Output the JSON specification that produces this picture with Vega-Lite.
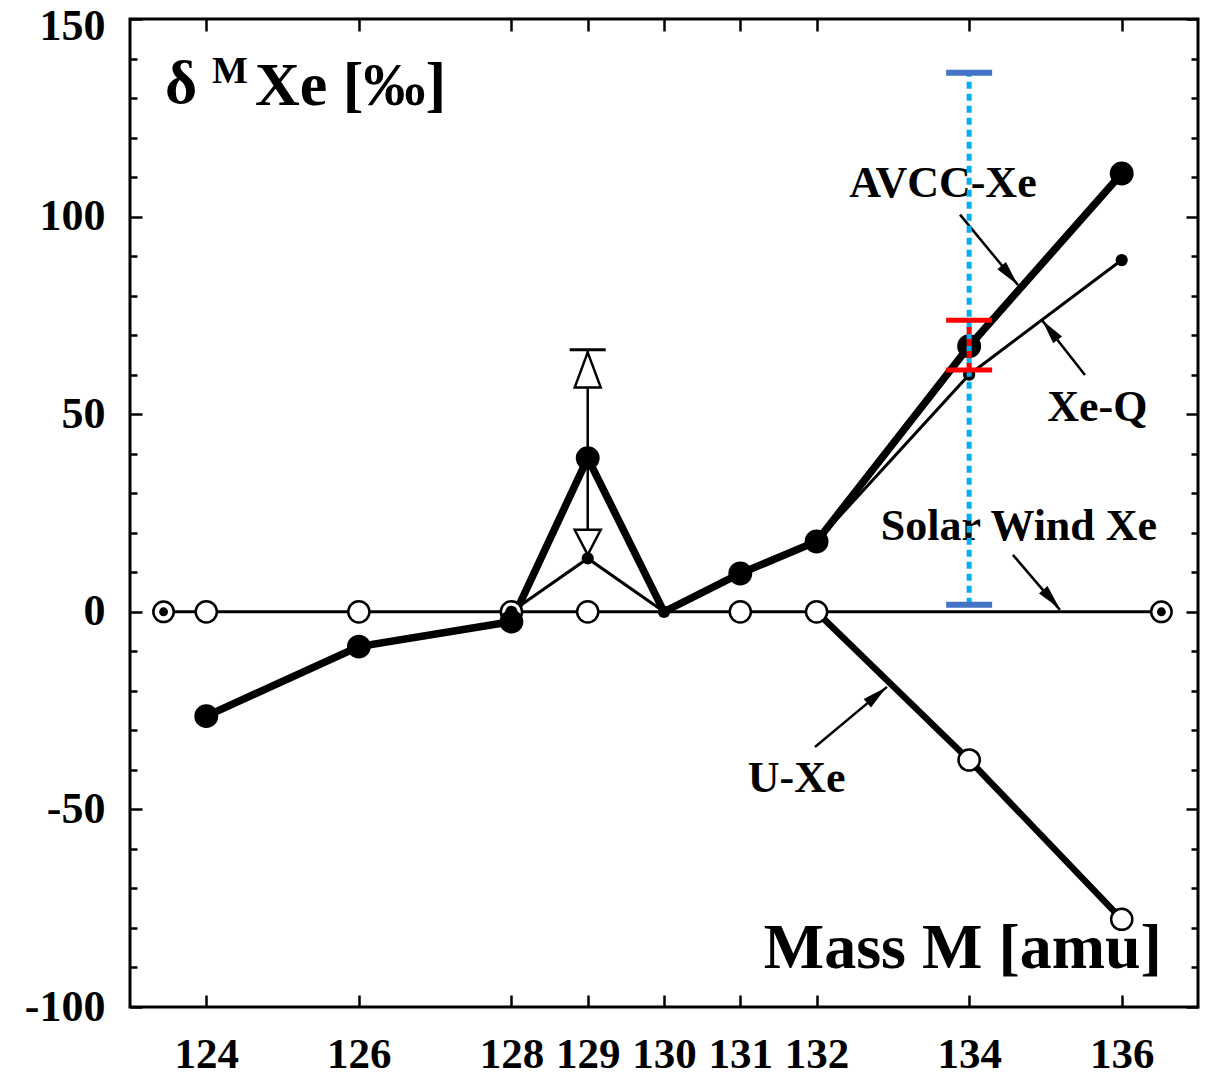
{
  "$schema": "https://vega.github.io/schema/vega-lite/v6.json",
  "width": 1068,
  "height": 988,
  "autosize": {"type": "none"},
  "padding": {"left": 130, "top": 19, "right": 10, "bottom": 69},
  "background": "white",
  "config": {
    "font": "Liberation Serif",
    "view": {"stroke": "black", "strokeWidth": 3}
  },
  "datasets": {
    "avcc": [
      {"m": 124, "d": -26.4}, {"m": 126, "d": -8.8}, {"m": 128, "d": -2.5},
      {"m": 129, "d": 38.9}, {"m": 130, "d": 0}, {"m": 131, "d": 9.7},
      {"m": 132, "d": 17.8}, {"m": 134, "d": 67.2}, {"m": 136, "d": 110.9}
    ],
    "xeq": [
      {"m": 128, "d": 0}, {"m": 129, "d": 13.5}, {"m": 130, "d": 0},
      {"m": 131, "d": 9.7}, {"m": 132, "d": 17.8}, {"m": 134, "d": 60.0}, {"m": 136, "d": 89.0}
    ],
    "uxe": [
      {"m": 124, "d": 0}, {"m": 126, "d": 0}, {"m": 128, "d": 0}, {"m": 129, "d": 0},
      {"m": 131, "d": 0}, {"m": 132, "d": 0}, {"m": 134, "d": -37.5}, {"m": 136, "d": -77.8}
    ],
    "sw": [{"m": 123.44, "d": 0}, {"m": 136.52, "d": 0}],
    "err129": [{"m": 129, "d": 20.6, "d2": 66.3}],
    "cap129": [{"m": 129, "d": 66.3}],
    "triup": [{"m": 129, "d": 61.2}],
    "tridown": [{"m": 129, "d": 17.6}],
    "blue134": [{"m": 134, "d": 1.8, "d2": 136.4}],
    "red134": [{"m": 134, "d": 61.2, "d2": 73.8}],
    "labels": [
      {"m": 133.657, "d": 104.96, "text": "AVCC-Xe"},
      {"m": 135.68, "d": 48.3, "text": "Xe-Q"},
      {"m": 134.653, "d": 18.17, "text": "Solar Wind Xe"},
      {"m": 131.739, "d": -45.5, "text": "U-Xe"}
    ],
    "arrows": [
      {"m": 133.880, "d": 100.5, "m2": 134.640, "d2": 82.7},
      {"m": 135.518, "d": 59.9, "m2": 134.954, "d2": 73.8},
      {"m": 134.574, "d": 14.4, "m2": 135.190, "d2": 0.5},
      {"m": 131.979, "d": -34.2, "m2": 132.923, "d2": -19.0}
    ],
    "heads": [
      {"m": 134.531, "d": 85.2, "angle": 140},
      {"m": 135.059, "d": 71.3, "angle": 322},
      {"m": 135.079, "d": 3.2, "angle": 139},
      {"m": 132.791, "d": -21.1, "angle": 50}
    ],
    "titleMain": [{"m": 123.459, "d": 128.7, "text": "δ"}, {"m": 124.638, "d": 128.2, "text": "Xe [‰]"}],
    "titleSup": [{"m": 124.075, "d": 133.8, "text": "M"}],
    "xtitle": [{"m": 136.527, "d": -90.1, "text": "Mass M [amu]"}]
  },
  "layer": [
    {
      "data": {"name": "sw"},
      "mark": {"type": "line", "color": "black", "strokeWidth": 3},
      "encoding": {
        "x": {
          "field": "m", "type": "quantitative",
          "scale": {"domain": [123, 137], "nice": false, "zero": false},
          "axis": {
            "orient": "top", "values": [124, 126, 128, 129, 130, 131, 132, 134, 136],
            "labels": false, "title": null, "domain": false, "grid": false,
            "tickSize": -12, "tickWidth": 2.5, "tickColor": "black"
          }
        },
        "y": {
          "field": "d", "type": "quantitative",
          "scale": {"domain": [-100, 150], "nice": false, "zero": false},
          "axis": {
            "orient": "right",
            "values": [-100, -90, -80, -70, -60, -50, -40, -30, -20, -10, 0, 10, 20, 30, 40, 50, 60, 70, 80, 90, 100, 110, 120, 130, 140, 150],
            "labels": false, "title": null, "domain": false, "grid": false,
            "tickSize": {"condition": {"test": "datum.value % 50 === 0", "value": -12}, "value": -7},
            "tickWidth": 2.5, "tickColor": "black"
          }
        }
      }
    },
    {
      "encoding": {
        "x": {
          "field": "m", "type": "quantitative",
          "scale": {"domain": [123, 137], "nice": false, "zero": false},
          "axis": {
            "orient": "bottom", "values": [124, 126, 128, 129, 130, 131, 132, 134, 136],
            "format": "d", "title": null, "domain": false, "grid": false,
            "tickSize": -12, "tickWidth": 2.5, "tickColor": "black",
            "labelFont": "Liberation Serif", "labelFontSize": 43, "labelFontWeight": "bold",
            "labelColor": "black", "labelPadding": 38, "labelFlush": false, "labelOverlap": false
          }
        },
        "y": {
          "field": "d", "type": "quantitative",
          "scale": {"domain": [-100, 150], "nice": false, "zero": false},
          "axis": {
            "orient": "left",
            "values": [-100, -90, -80, -70, -60, -50, -40, -30, -20, -10, 0, 10, 20, 30, 40, 50, 60, 70, 80, 90, 100, 110, 120, 130, 140, 150],
            "labelExpr": "datum.value % 50 === 0 ? '' + datum.value : ''",
            "title": null, "domain": false, "grid": false,
            "tickSize": {"condition": {"test": "datum.value % 50 === 0", "value": -12}, "value": -7},
            "tickWidth": 2.5, "tickColor": "black",
            "labelFont": "Liberation Serif", "labelFontSize": 44, "labelFontWeight": "bold",
            "labelColor": "black", "labelPadding": 37, "labelFlush": false, "labelOverlap": false,
            "labelOffset": {"condition": {"test": "datum.value === 150", "value": 7}, "value": 0}
          }
        }
      },
      "layer": [
        {
          "data": {"name": "uxe"},
          "transform": [{"filter": "datum.m >= 132"}],
          "mark": {"type": "line", "color": "black", "strokeWidth": 6.5}
        },
        {
          "data": {"name": "xeq"},
          "mark": {"type": "line", "color": "black", "strokeWidth": 3}
        },
        {
          "data": {"name": "avcc"},
          "mark": {"type": "line", "color": "black", "strokeWidth": 7.5}
        },
        {
          "data": {"name": "err129"},
          "mark": {"type": "rule", "color": "black", "strokeWidth": 2.5},
          "encoding": {"y2": {"field": "d2"}}
        },
        {
          "data": {"name": "cap129"},
          "mark": {"type": "tick", "orient": "horizontal", "color": "black", "size": 36, "thickness": 3, "opacity": 1}
        },
        {
          "data": {"name": "uxe"},
          "mark": {"type": "point", "shape": "circle", "filled": true, "fill": "white", "stroke": "black", "strokeWidth": 2.5, "size": 450, "opacity": 1}
        },
        {
          "data": {"name": "xeq"},
          "mark": {"type": "point", "shape": "circle", "filled": true, "color": "black", "size": 150, "opacity": 1}
        },
        {
          "data": {"name": "avcc"},
          "transform": [{"filter": "datum.m != 130"}],
          "mark": {"type": "point", "shape": "circle", "filled": true, "color": "black", "size": 570, "opacity": 1}
        },
        {
          "data": {"name": "triup"},
          "mark": {"type": "point", "shape": "M0,-1L0.743,1L-0.743,1Z", "filled": true, "fill": "white", "stroke": "black", "strokeWidth": 2.5, "size": 1225, "opacity": 1}
        },
        {
          "data": {"name": "tridown"},
          "mark": {"type": "point", "shape": "M-1.04,-1L1.04,-1L0,1Z", "filled": true, "fill": "white", "stroke": "black", "strokeWidth": 2.5, "size": 625, "opacity": 1}
        },
        {
          "data": {"name": "sw"},
          "mark": {"type": "point", "shape": "circle", "filled": true, "fill": "white", "stroke": "black", "strokeWidth": 2.5, "size": 420, "opacity": 1}
        },
        {
          "data": {"name": "sw"},
          "mark": {"type": "point", "shape": "circle", "filled": true, "color": "black", "size": 80, "opacity": 1}
        },
        {
          "data": {"name": "arrows"},
          "mark": {"type": "rule", "color": "black", "strokeWidth": 2.5},
          "encoding": {"x2": {"field": "m2"}, "y2": {"field": "d2"}}
        },
        {
          "data": {"name": "heads"},
          "mark": {"type": "point", "shape": "M0,-1L0.45,1L-0.45,1Z", "filled": true, "color": "black", "size": 625, "opacity": 1},
          "encoding": {"angle": {"field": "angle", "type": "quantitative", "scale": null}}
        },
        {
          "data": {"name": "labels"},
          "mark": {"type": "text", "font": "Liberation Serif", "fontSize": 44, "fontWeight": "bold", "color": "black", "align": "center", "baseline": "alphabetic"},
          "encoding": {"text": {"field": "text"}}
        },
        {
          "data": {"name": "titleMain"},
          "mark": {"type": "text", "font": "Liberation Serif", "fontSize": 62, "fontWeight": "bold", "color": "black", "align": "left", "baseline": "alphabetic"},
          "encoding": {"text": {"field": "text"}}
        },
        {
          "data": {"name": "titleSup"},
          "mark": {"type": "text", "font": "Liberation Serif", "fontSize": 38, "fontWeight": "bold", "color": "black", "align": "left", "baseline": "alphabetic"},
          "encoding": {"text": {"field": "text"}}
        },
        {
          "data": {"name": "xtitle"},
          "mark": {"type": "text", "font": "Liberation Serif", "fontSize": 64, "fontWeight": "bold", "color": "black", "align": "right", "baseline": "alphabetic"},
          "encoding": {"text": {"field": "text"}}
        },
        {
          "data": {"name": "blue134"},
          "mark": {"type": "rule", "color": "#00B0F0", "strokeWidth": 5, "strokeDash": [7, 5]},
          "encoding": {"y2": {"field": "d2"}}
        },
        {
          "data": {"name": "red134"},
          "mark": {"type": "rule", "color": "#FF0000", "strokeWidth": 5, "strokeDash": [7, 5]},
          "encoding": {"y2": {"field": "d2"}}
        },
        {
          "data": {"name": "blue134"},
          "mark": {"type": "tick", "orient": "horizontal", "color": "#4472C4", "size": 46, "thickness": 6, "opacity": 1}
        },
        {
          "data": {"name": "blue134"},
          "mark": {"type": "tick", "orient": "horizontal", "color": "#4472C4", "size": 46, "thickness": 6, "opacity": 1},
          "encoding": {"y": {"field": "d2", "type": "quantitative", "scale": {"domain": [-100, 150], "nice": false, "zero": false}}}
        },
        {
          "data": {"name": "red134"},
          "mark": {"type": "tick", "orient": "horizontal", "color": "#FF0000", "size": 46, "thickness": 5, "opacity": 1}
        },
        {
          "data": {"name": "red134"},
          "mark": {"type": "tick", "orient": "horizontal", "color": "#FF0000", "size": 46, "thickness": 5, "opacity": 1},
          "encoding": {"y": {"field": "d2", "type": "quantitative", "scale": {"domain": [-100, 150], "nice": false, "zero": false}}}
        }
      ]
    }
  ],
  "resolve": {"axis": {"x": "independent", "y": "independent"}}
}
